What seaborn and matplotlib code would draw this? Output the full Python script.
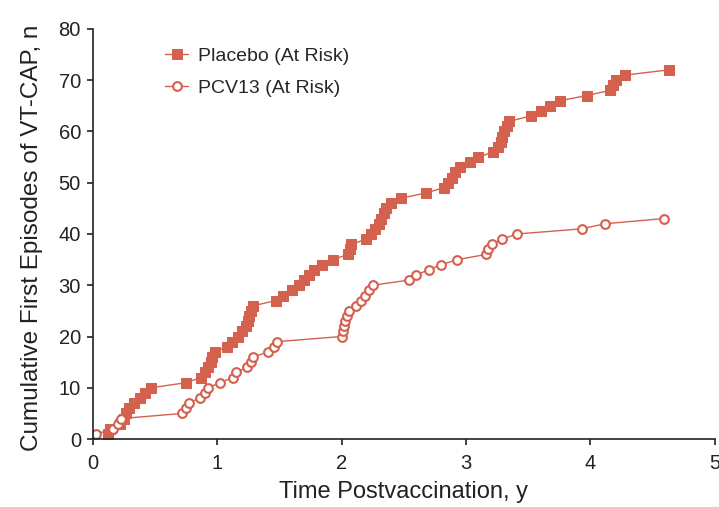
import seaborn as sns
import pandas as pd
import matplotlib.pyplot as plt

# event times (years) for each cumulative count 1..n
placebo_times = [0.12, 0.14, 0.22, 0.25, 0.27, 0.29, 0.33, 0.38, 0.42, 0.47,
                 0.75, 0.87, 0.90, 0.93, 0.95, 0.96, 0.98, 1.08, 1.12, 1.17,
                 1.20, 1.23, 1.25, 1.26, 1.27, 1.29, 1.47, 1.53, 1.60, 1.66,
                 1.70, 1.74, 1.78, 1.84, 1.93, 2.05, 2.07, 2.08, 2.20, 2.24,
                 2.27, 2.30, 2.32, 2.34, 2.36, 2.40, 2.48, 2.68, 2.82, 2.86,
                 2.89, 2.91, 2.95, 3.03, 3.10, 3.22, 3.26, 3.28, 3.29, 3.31,
                 3.33, 3.35, 3.52, 3.60, 3.68, 3.76, 3.97, 4.16, 4.18, 4.21,
                 4.28, 4.63]
pcv13_times = [0.03, 0.16, 0.20, 0.23, 0.72, 0.75, 0.77, 0.86, 0.90, 0.93,
               1.02, 1.13, 1.15, 1.24, 1.27, 1.29, 1.41, 1.46, 1.48, 2.00,
               2.01, 2.02, 2.03, 2.04, 2.06, 2.12, 2.16, 2.19, 2.22, 2.25,
               2.54, 2.60, 2.70, 2.80, 2.93, 3.16, 3.18, 3.21, 3.29, 3.41,
               3.93, 4.12, 4.59]

placebo = pd.DataFrame({'time': placebo_times,
                        'count': range(1, len(placebo_times) + 1)})
pcv13 = pd.DataFrame({'time': pcv13_times,
                      'count': range(1, len(pcv13_times) + 1)})

color = '#d4604e'

sns.set_style('ticks')
plt.rcParams['font.family'] = ['Liberation Sans', 'DejaVu Sans']

fig = plt.figure(figsize=(7.19, 5.07), dpi=100)
ax = fig.add_axes([0.129, 0.134, 0.865, 0.809])

sns.lineplot(x='time', y='count', data=placebo, ax=ax, color=color,
             marker='s', markersize=7, markeredgecolor=color, linewidth=1,
             estimator=None, sort=False, label='Placebo (At Risk)')
sns.lineplot(x='time', y='count', data=pcv13, ax=ax, color=color,
             marker='o', markersize=6.3, markerfacecolor='white',
             markeredgecolor=color, markeredgewidth=1.5, linewidth=1,
             estimator=None, sort=False, label='PCV13 (At Risk)')

ax.set_xlim(0, 5)
ax.set_ylim(0, 80)
ax.set_xticks(range(0, 6))
ax.set_yticks(range(0, 81, 10))
ax.tick_params(labelsize=14.5, length=4.5, width=1.2, colors='#222222')
ax.tick_params(axis='x', pad=6)
ax.tick_params(axis='y', pad=4)
for side in ['top', 'right']:
    ax.spines[side].set_visible(False)
for side in ['left', 'bottom']:
    ax.spines[side].set_linewidth(1.2)
    ax.spines[side].set_color('#222222')

ax.set_xlabel('Time Postvaccination, y', fontsize=17, color='#222222')
ax.set_ylabel('Cumulative First Episodes of VT-CAP, n', fontsize=17.5,
              color='#222222')
ax.xaxis.set_label_coords(0.5, -0.103)
ax.yaxis.set_label_coords(-0.08, 0.49)

leg = ax.legend(loc='upper left', bbox_to_anchor=(0.116, 0.955), frameon=False,
                fontsize=14, handlelength=1.2, handletextpad=0.5,
                labelspacing=0.75, borderaxespad=0, borderpad=0)

plt.savefig('out.png', dpi=100)
